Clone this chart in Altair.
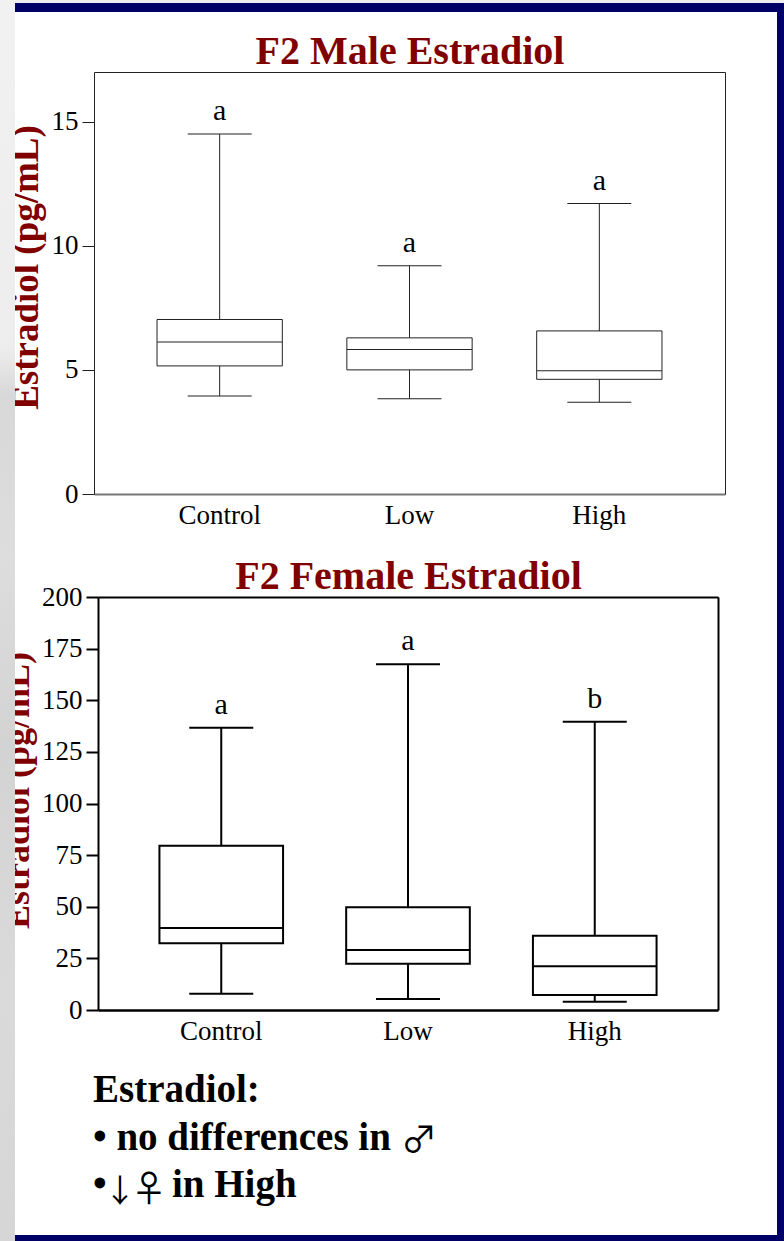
import altair as alt
import pandas as pd

# ---------------- data ----------------
groups = ["Control", "Low", "High"]

male_min = [3.95, 3.84, 3.70]
male_q1 = [5.16, 5.00, 4.62]
male_median = [6.12, 5.82, 4.97]
male_q3 = [7.03, 6.29, 6.57]
male_max = [14.5, 9.19, 11.7]
male_letters = ["a", "a", "a"]
male_ticks = [0, 5, 10, 15]

female_min = [7.9, 5.3, 4.0]
female_q1 = [32.3, 22.4, 7.3]
female_median = [39.7, 29.1, 21.2]
female_q3 = [79.6, 49.7, 36.0]
female_max = [136.7, 167.4, 139.6]
female_letters = ["a", "a", "b"]
female_ticks = [0, 25, 50, 75, 100, 125, 150, 175, 200]

male_title = "F2 Male Estradiol"
female_title = "F2 Female Estradiol"
y_title = "Estradiol (pg/mL)"
summary_heading = "Estradiol:"
summary_line2 = ["• no differences in", "♂"]
summary_line3 = ["•", "↓", "♀", "in High"]

# ---------------- styles ----------------
W, H = 784, 1241
SERIF = "Liberation Serif"
SYMBOL = "Noto Sans CJK JP"
DARKRED = "#800000"
NAVY = "#000066"


def panel(mins, q1s, meds, q3s, maxs, letters, ticks, ydom, yrng, xrng,
          title, ytitle_x, ytitle_y, ytitle_size, left_off, bottom_off, top_off,
          right_off, lw, col, bottom_col, bottom_w, pin, pout, capw, boxw):
    df = pd.DataFrame({"group": groups, "lo": mins, "q1": q1s, "med": meds,
                       "q3": q3s, "hi": maxs, "letter": letters})
    xs = alt.Scale(domain=groups, range=xrng, paddingInner=pin, paddingOuter=pout)
    ys = alt.Scale(domain=ydom, range=yrng, nice=False, zero=False)
    base = alt.Chart(df)

    left_axis = alt.Axis(orient="left", offset=left_off, values=ticks, grid=False,
                         tickSize=12, tickWidth=lw, tickColor=col,
                         domainColor=col, domainWidth=lw,
                         labelFont=SERIF, labelFontSize=27, labelColor="black",
                         labelPadding=4,
                         title=y_title, titleFont=SERIF, titleFontSize=ytitle_size,
                         titleFontWeight="bold", titleColor=DARKRED,
                         titleAngle=270, titleAlign="center",
                         titleBaseline="alphabetic", titleX=ytitle_x, titleY=ytitle_y)
    bottom_axis = alt.Axis(orient="bottom", offset=bottom_off, ticks=False, grid=False,
                           domainColor=bottom_col, domainWidth=bottom_w,
                           labelFont=SERIF, labelFontSize=27, labelColor="black",
                           labelAngle=0, labelPadding=8, title=None)
    top_axis = alt.Axis(orient="top", offset=top_off, ticks=False, labels=False,
                        grid=False, domainColor=col, domainWidth=lw,
                        title=title, titleFont=SERIF, titleFontSize=40,
                        titleFontWeight="bold", titleColor=DARKRED,
                        titleBaseline="alphabetic", titleY=-9)
    right_axis = alt.Axis(orient="right", offset=right_off, ticks=False, labels=False,
                          grid=False, domainColor=col, domainWidth=lw, title=None)

    whisker = base.mark_rule(color=col, strokeWidth=lw).encode(
        x=alt.X("group:N", scale=xs, axis=bottom_axis),
        y=alt.Y("lo:Q", scale=ys, axis=left_axis),
        y2="hi:Q",
    )
    box = base.mark_bar(fill="white", stroke=col, strokeWidth=lw).encode(
        x=alt.X("group:N", scale=xs, axis=top_axis),
        y=alt.Y("q1:Q", scale=ys, axis=right_axis),
        y2="q3:Q",
    )
    cap_lo = base.mark_tick(color=col, size=capw, thickness=lw, opacity=1).encode(
        x=alt.X("group:N", scale=xs, axis=None),
        y=alt.Y("lo:Q", scale=ys, axis=None),
    )
    cap_hi = base.mark_tick(color=col, size=capw, thickness=lw, opacity=1).encode(
        x=alt.X("group:N", scale=xs, axis=None),
        y=alt.Y("hi:Q", scale=ys, axis=None),
    )
    median = base.mark_tick(color=col, size=boxw, thickness=lw, opacity=1).encode(
        x=alt.X("group:N", scale=xs, axis=None),
        y=alt.Y("med:Q", scale=ys, axis=None),
    )
    letter = base.mark_text(font=SERIF, fontSize=30, color="black",
                            baseline="alphabetic", dy=-14).encode(
        x=alt.X("group:N", scale=xs, axis=None),
        y=alt.Y("hi:Q", scale=ys, axis=None),
        text="letter:N",
    )
    return alt.layer(whisker, box, cap_lo, cap_hi, median, letter).resolve_axis(
        x="independent", y="independent")


male = panel(male_min, male_q1, male_median, male_q3, male_max, male_letters,
             male_ticks, [0, 17], [494, 72], [94, 725], male_title,
             ytitle_x=-57, ytitle_y=267, ytitle_size=37,
             left_off=-94, bottom_off=494 - H, top_off=-72, right_off=725 - W,
             lw=1, col="#222222", bottom_col="#777777", bottom_w=2,
             pin=0.34, pout=0.332, capw=64, boxw=125)

female = panel(female_min, female_q1, female_median, female_q3, female_max,
               female_letters, female_ticks, [0, 200], [1010, 597], [98, 718],
               female_title, ytitle_x=-70, ytitle_y=790, ytitle_size=36,
               left_off=-98, bottom_off=1010 - H, top_off=-597, right_off=718 - W,
               lw=2, col="black", bottom_col="black", bottom_w=2.5,
               pin=0.338, pout=0.329, capw=64, boxw=123)

one = alt.Chart(pd.DataFrame({"k": [0]}))


def band(x1, x2, y1, y2, fill):
    return one.mark_rect(fill=fill).encode(
        x=alt.value(x1), x2=alt.value(x2), y=alt.value(y1), y2=alt.value(y2))


top_gray = band(0, W, 0, 3, "#efefef")
navy_top = band(15, W, 3, 12, NAVY)
navy_right = band(777, W, 3, H, NAVY)
navy_bottom = band(15, W, 1235, H, NAVY)

strip = one.mark_rect(
    fill=alt.LinearGradient(
        gradient="linear", x1=0, y1=0, x2=0, y2=1,
        stops=[alt.GradientStop(offset=0, color="#f1f1f1"),
               alt.GradientStop(offset=0.28, color="#ededed"),
               alt.GradientStop(offset=0.32, color="#d8d8d8"),
               alt.GradientStop(offset=0.45, color="#dddddd"),
               alt.GradientStop(offset=0.6, color="#d3d3d3"),
               alt.GradientStop(offset=0.8, color="#dadada"),
               alt.GradientStop(offset=1, color="#d6d6d6")])
).encode(x=alt.value(0), x2=alt.value(15), y=alt.value(0), y2=alt.value(H))


def words(text, x, y, size=39, weight="bold", font=SERIF):
    return one.mark_text(text=text, font=font, fontSize=size, fontWeight=weight,
                         color="black", align="left", baseline="alphabetic").encode(
        x=alt.value(x), y=alt.value(y))


text_layers = [
    words(summary_heading, 93, 1102),
    words(summary_line2[0], 93, 1150),
    words(summary_line2[1], 401, 1153, size=36, weight="normal", font=SYMBOL),
    words(summary_line3[0], 93, 1197),
    words(summary_line3[1], 104, 1202, size=32, weight="normal", font=SYMBOL),
    words(summary_line3[2], 131, 1202, size=36, weight="normal", font=SYMBOL),
    words(summary_line3[3], 172, 1197),
]

chart = alt.layer(
    top_gray, navy_top, navy_right, navy_bottom,
    male, female, *text_layers, strip
).resolve_scale(
    x="independent", y="independent"
).properties(
    width=W, height=H, padding=0,
    autosize=alt.AutoSizeParams(type="none"),
).configure(
    background="white"
).configure_view(stroke=None)

chart.save("out.html", embed_options={"renderer": "svg", "actions": False})
